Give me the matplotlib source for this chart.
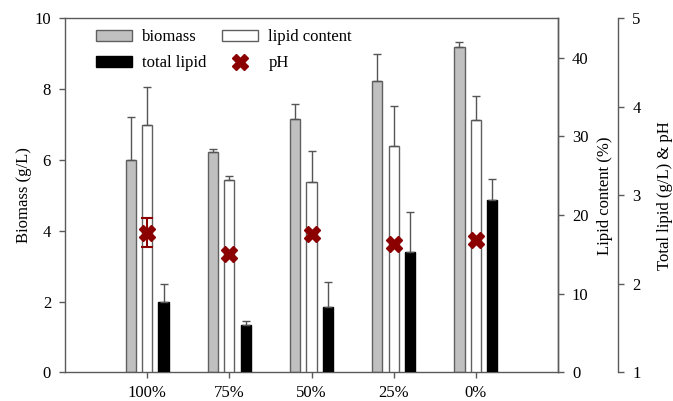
import matplotlib
matplotlib.use('Agg')
import matplotlib.pyplot as plt
import numpy as np
from matplotlib.patches import Patch
from matplotlib.lines import Line2D

plt.rcParams['font.family'] = ['Liberation Serif', 'DejaVu Serif']

categories = ['100%', '75%', '50%', '25%', '0%']
biomass = [6.0, 6.22, 7.15, 8.23, 9.19]
biomass_err = [1.2, 0.08, 0.44, 0.76, 0.13]
lipid_content = [31.4, 24.5, 24.2, 28.8, 32.1]
lipid_content_err = [4.9, 0.45, 3.9, 5.1, 3.0]
total_lipid = [1.80, 1.53, 1.74, 2.36, 2.95]
total_lipid_err = [0.2, 0.045, 0.28, 0.45, 0.24]
ph = [2.58, 2.34, 2.56, 2.45, 2.49]
ph_err = [0.16, 0, 0, 0, 0]

x = np.arange(1, len(categories) + 1)
w = 0.125
zeros = np.zeros(len(x))
spine_c = '#5a5a5a'
err_c = '#555555'
red = '#8b0000'

fig = plt.figure(figsize=(6.73, 4.01), dpi=100)
ax = fig.add_axes([0.0966, 0.0716, 0.7326, 0.8825])
ax2 = ax.twinx()
ax3 = ax.twinx()
ax3.spines['right'].set_position(('axes', 1.1223))

# biomass (left axis)
ax.bar(x - 0.2, biomass, w, color='#c0c0c0', edgecolor='#606060', linewidth=1)
ax.errorbar(x - 0.2, biomass, yerr=[zeros, biomass_err], fmt='none',
            ecolor=err_c, elinewidth=1, capsize=3, capthick=1)

# lipid content (inner right axis)
ax2.bar(x, lipid_content, w, color='white', edgecolor='#606060', linewidth=1)
ax2.errorbar(x, lipid_content, yerr=[zeros, lipid_content_err], fmt='none',
             ecolor=err_c, elinewidth=1, capsize=3, capthick=1)

# total lipid and pH (outer right axis)
ax3.bar(x + 0.2, total_lipid, w, color='black', edgecolor='black', linewidth=1)
ax3.errorbar(x + 0.2, total_lipid, yerr=[zeros, total_lipid_err], fmt='none',
             ecolor=err_c, elinewidth=1, capsize=3, capthick=1)
ph = np.array(ph)
ph_err = np.array(ph_err)
m = ph_err > 0
ax3.errorbar(x[m], ph[m], yerr=ph_err[m], fmt='none', ecolor=red,
             elinewidth=1.5, capsize=4.5, capthick=1.5)
ax3.plot(x, ph, 'X', color=red, ms=11, mec=red, ls='none')

ax.set_xlim(0, 6)
ax.set_ylim(0, 10)
ax.set_yticks(np.arange(0, 11, 2))
ax.set_xticks(x)
ax.set_xticklabels(categories)
ax2.set_ylim(0, 45)
ax2.set_yticks(np.arange(0, 41, 10))
ax3.set_ylim(1, 5)
ax3.set_yticks([1, 2, 3, 4, 5])

for a in (ax, ax2, ax3):
    for s in a.spines.values():
        s.set_color(spine_c)
        s.set_linewidth(1)
    a.tick_params(axis='y', direction='out', length=4, width=1, color=spine_c,
                  labelsize=12, pad=6)
ax.tick_params(axis='x', direction='out', length=4, width=1, color=spine_c,
               labelsize=12, pad=5)
for a in (ax2, ax3):
    for k in ('left', 'top', 'bottom'):
        a.spines[k].set_visible(False)

ax.set_ylabel('Biomass (g/L)', fontsize=12, labelpad=2)
ax2.set_ylabel('Lipid content (%)', fontsize=12, labelpad=6)
ax3.set_ylabel('Total lipid (g/L) & pH', fontsize=12, labelpad=12)

handles = [Patch(facecolor='#c0c0c0', edgecolor='#606060'),
           Patch(facecolor='black', edgecolor='black'),
           Patch(facecolor='white', edgecolor='#606060'),
           Line2D([], [], marker='X', color=red, ms=11, ls='none')]
labels = ['biomass', 'total lipid', 'lipid content', 'pH']
ax3.legend(handles, labels, ncol=2, frameon=False, loc='upper left',
           bbox_to_anchor=(0.062, 0.969), fontsize=12, handlelength=2.2,
           handleheight=0.6, columnspacing=0.9, handletextpad=0.6,
           labelspacing=0.6, borderpad=0, borderaxespad=0)

fig.savefig('out.png', dpi=100)
